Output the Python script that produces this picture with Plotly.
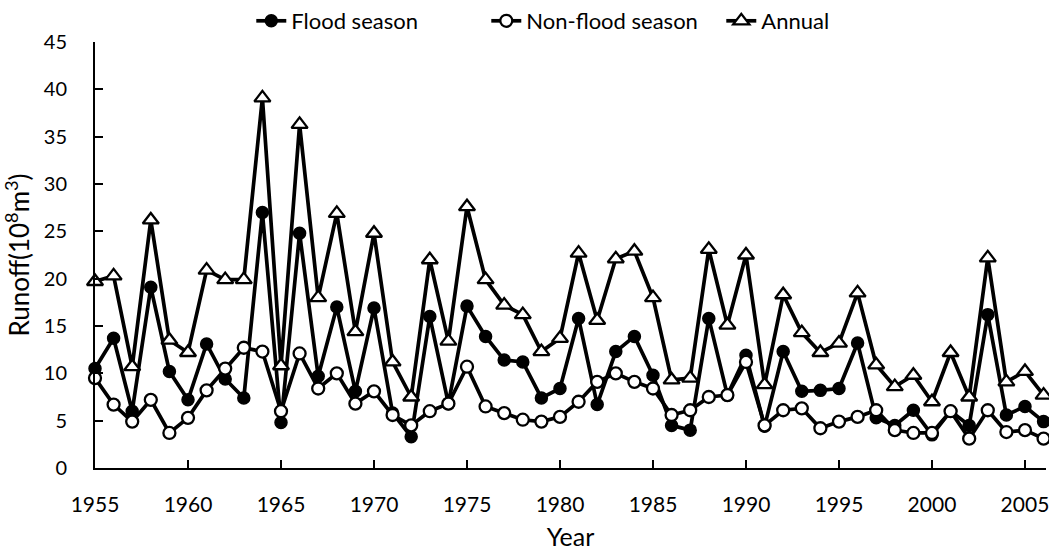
import plotly.graph_objects as go

years = list(range(1955, 2007))

flood_season = [
    10.5, 13.7, 6.0, 19.1, 10.2, 7.2, 13.1, 9.4, 7.4, 27.0,
    4.8, 24.8, 9.7, 17.0, 8.1, 16.9, 5.8, 3.3, 16.0, 6.8,
    17.1, 13.9, 11.4, 11.2, 7.4, 8.4, 15.8, 6.7, 12.3, 13.9,
    9.8, 4.5, 4.0, 15.8, 7.7, 11.9, 4.4, 12.3, 8.1, 8.2,
    8.4, 13.2, 5.3, 4.5, 6.1, 3.5, 6.0, 4.5, 16.2, 5.6,
    6.5, 4.9,
]

non_flood_season = [
    9.5, 6.7, 4.9, 7.2, 3.7, 5.3, 8.2, 10.5, 12.7, 12.3,
    6.0, 12.1, 8.4, 10.0, 6.8, 8.1, 5.6, 4.5, 6.0, 6.8,
    10.7, 6.5, 5.8, 5.1, 4.9, 5.4, 7.0, 9.1, 10.0, 9.1,
    8.4, 5.6, 6.1, 7.5, 7.7, 11.2, 4.5, 6.1, 6.3, 4.2,
    4.9, 5.4, 6.1, 4.0, 3.7, 3.7, 6.0, 3.1, 6.1, 3.8,
    4.0, 3.1,
]

annual = [
    19.7, 20.3, 10.7, 26.2, 13.5, 12.2, 20.9, 19.9, 19.9, 39.1,
    10.8, 36.3, 18.0, 26.9, 14.4, 24.8, 11.2, 7.5, 22.0, 13.4,
    27.6, 19.9, 17.2, 16.2, 12.3, 13.7, 22.7, 15.6, 22.1, 22.9,
    18.0, 9.3, 9.5, 23.1, 15.1, 22.5, 8.8, 18.3, 14.3, 12.2,
    13.2, 18.5, 10.9, 8.6, 9.8, 7.0, 12.2, 7.5, 22.2, 9.1,
    10.2, 7.7,
]

x_ticks = list(range(1955, 2006, 5))
y_ticks = list(range(0, 46, 5))

FONT = "Lato, Open Sans, sans-serif"
LINE = dict(color="black", width=3.7)

fig = go.Figure()
fig.add_trace(go.Scatter(
    x=years, y=flood_season, name="Flood season", mode="lines+markers",
    line=LINE,
    marker=dict(symbol="circle", size=12, color="black",
                line=dict(color="black", width=1.5)),
    cliponaxis=False,
))
fig.add_trace(go.Scatter(
    x=years, y=non_flood_season, name="Non-flood season", mode="lines+markers",
    line=LINE,
    marker=dict(symbol="circle", size=12, color="white",
                line=dict(color="black", width=2.3)),
    cliponaxis=False,
))
fig.add_trace(go.Scatter(
    x=years, y=annual, name="Annual", mode="lines+markers",
    line=LINE,
    marker=dict(symbol="triangle-up", size=14, color="white",
                line=dict(color="black", width=2.3)),
    cliponaxis=False,
))

fig.update_layout(
    width=1049, height=551,
    margin=dict(l=95, r=0, t=42, b=83),
    paper_bgcolor="white", plot_bgcolor="white",
    font=dict(family=FONT, size=20, color="black"),
    showlegend=True,
    legend=dict(
        orientation="h", x=0.535, xanchor="center", y=1.05, yanchor="middle",
        font=dict(family=FONT, size=22, color="black"),
        entrywidth=190, entrywidthmode="pixels",
        tracegroupgap=0, bgcolor="rgba(0,0,0,0)",
    ),
    xaxis=dict(
        range=[1955, 2006.13], tickvals=x_ticks, ticktext=[str(v) for v in x_ticks],
        showgrid=False, zeroline=False, showline=True, linecolor="black", linewidth=2,
        ticks="inside", ticklen=8, tickwidth=1.5, tickcolor="black",
        ticklabelstandoff=17, ticklabeloverflow="allow",
        tickfont=dict(family=FONT, size=21),
        title=dict(text="Year", standoff=14, font=dict(family=FONT, size=25)),
    ),
    yaxis=dict(
        range=[0, 45], tickvals=y_ticks,
        showgrid=False, zeroline=False, showline=True, linecolor="black", linewidth=2,
        ticks="inside", ticklen=8, tickwidth=1.5, tickcolor="black",
        ticklabelstandoff=22, tickfont=dict(family=FONT, size=20),
        title=dict(text="Runoff(10<sup>8</sup>m<sup>3</sup>)", standoff=8,
                   font=dict(family=FONT, size=26)),
    ),
)

fig.write_html("out.html")
